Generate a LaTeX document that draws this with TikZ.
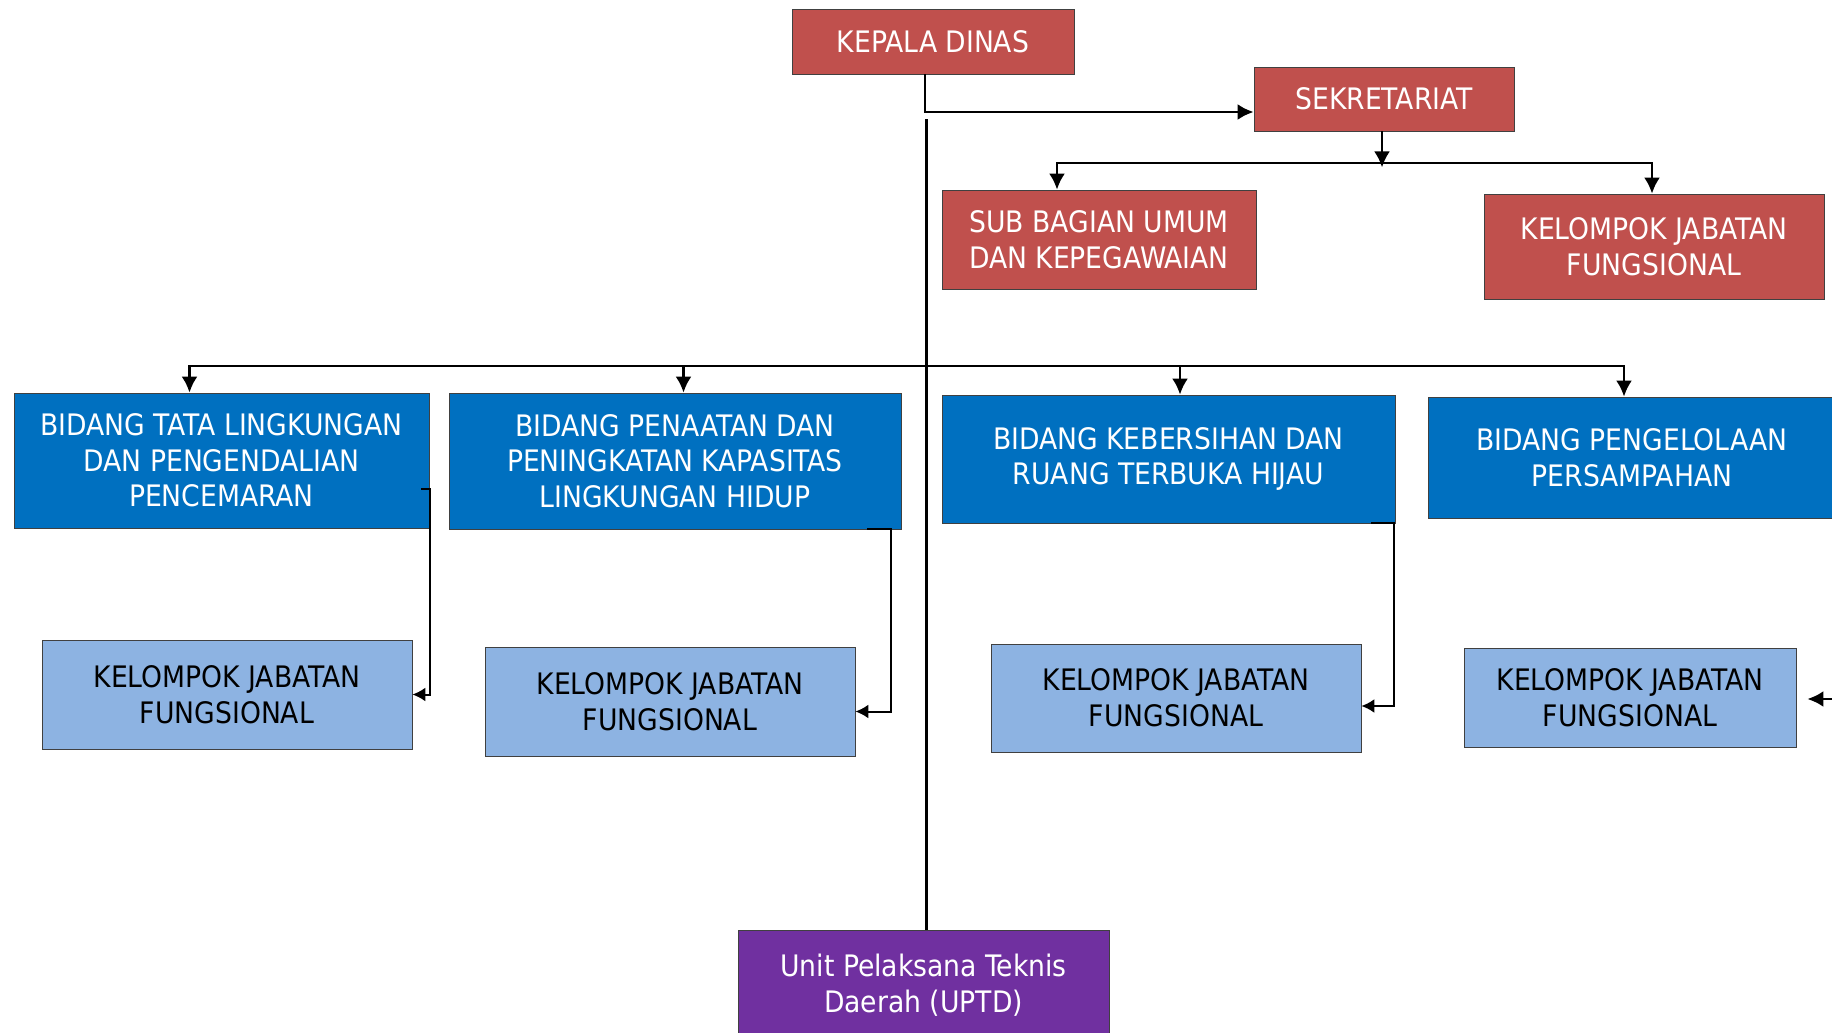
\documentclass[tikz,border=0pt]{standalone}
\usepackage{fontspec}
\setmainfont{DejaVu Sans Condensed}
\usepackage{tikz}
\usetikzlibrary{positioning, arrows.meta}
\definecolor{boxred}{HTML}{C0504D}
\definecolor{boxblue}{HTML}{0070C0}
\definecolor{boxlight}{HTML}{8DB3E2}
\definecolor{boxpurple}{HTML}{7030A0}

\begin{document}
\begin{tikzpicture}[
  x=1pt, y=-1pt,
  box/.style={draw=black!75, line width=0.8pt, align=center, inner sep=0pt,
    font=\fontsize{29.6}{35.6}\selectfont},
  redbox/.style={box, fill=boxred, text=white},
  bluebox/.style={box, fill=boxblue, text=white},
  fungbox/.style={box, fill=boxlight, text=black},
  uptdbox/.style={box, fill=boxpurple, text=white},
  link/.style={line width=2.6pt, -{Latex[length=16pt,width=16pt]}},
  plainlink/.style={line width=2.6pt},
  thinlink/.style={line width=2pt, -{Latex[length=13pt,width=14pt]}}
]
\useasboundingbox (0,0) rectangle (1832,1033);

% top
\node[redbox, minimum width=282pt, minimum height=65pt] (kd) at (933,41.5) {KEPALA DINAS};
\node[redbox, minimum width=260pt, minimum height=64pt] (sek) at (1384,99) {SEKRETARIAT};
\node[redbox, minimum width=314pt, minimum height=99pt] (sub) at (1099,239.5) {SUB BAGIAN UMUM\\DAN KEPEGAWAIAN};
\node[redbox, minimum width=340pt, minimum height=105pt] (kjsek) at (1654,246.5) {KELOMPOK JABATAN\\FUNGSIONAL};

% bidang
\node[bluebox, minimum width=415pt, minimum height=135pt] (b1) at (221.5,460.5) {BIDANG TATA LINGKUNGAN\\DAN PENGENDALIAN\\PENCEMARAN};
\node[bluebox, minimum width=452pt, minimum height=136pt] (b2) at (675,461) {BIDANG PENAATAN DAN\\PENINGKATAN KAPASITAS\\LINGKUNGAN HIDUP};
\node[bluebox, minimum width=453pt, minimum height=128pt] (b3) at (1168.5,459) {BIDANG KEBERSIHAN DAN\\RUANG TERBUKA HIJAU};
\node[bluebox, minimum width=408pt, minimum height=121pt] (b4) at (1632,457.5) {BIDANG PENGELOLAAN\\PERSAMPAHAN};

% kelompok jabatan fungsional
\node[fungbox, minimum width=370pt, minimum height=109pt] (k1) at (227,694.5) {KELOMPOK JABATAN\\FUNGSIONAL};
\node[fungbox, minimum width=370pt, minimum height=109pt] (k2) at (670,701.5) {KELOMPOK JABATAN\\FUNGSIONAL};
\node[fungbox, minimum width=370pt, minimum height=108pt] (k3) at (1176,698) {KELOMPOK JABATAN\\FUNGSIONAL};
\node[fungbox, minimum width=332pt, minimum height=99pt] (k4) at (1630,697.5) {KELOMPOK JABATAN\\FUNGSIONAL};

\node[uptdbox, minimum width=371pt, minimum height=110pt] (uptd) at (923.5,985) {Unit Pelaksana Teknis\\Daerah (UPTD)};

\coordinate (top) at (926.5,119);
\coordinate (bus) at (926.5,366);
\coordinate (sbus) at (1382,163);
\coordinate (k4in) at (1840,699);

% connectors
\draw[link] ([xshift=-8pt]kd.south) |- ([yshift=-13pt]sek.west);
\draw[plainlink] (top) -- (top |- uptd.north);
\draw[link] ([xshift=-2pt]sek.south) -- ++(0,36);
\draw[link] (sbus) -| ([xshift=-42pt]sub.north);
\draw[link] (sbus) -| ([xshift=-2pt]kjsek.north);

\draw[link] (bus) -| ([xshift=-32pt]b1.north);
\draw[link] (bus) -| ([xshift=8.5pt]b2.north);
\draw[link] (bus) -| ([xshift=11.5pt]b3.north);
\draw[link] (bus) -| ([xshift=-8pt]b4.north);

\draw[thinlink] ([xshift=-8pt,yshift=-28pt]b1.east) -- ++(9,0) |- (k1.east);
\draw[thinlink] ([xshift=-34pt]b2.south east) -- ++(24,0) |- ([yshift=-10pt]k2.east);
\draw[thinlink] ([xshift=-24pt]b3.south east) -- ++(23,0) |- ([yshift=-8pt]k3.east);
\draw[link, shorten >=11pt] (k4in) -- (k4.east |- k4in);

\end{tikzpicture}
\end{document}
